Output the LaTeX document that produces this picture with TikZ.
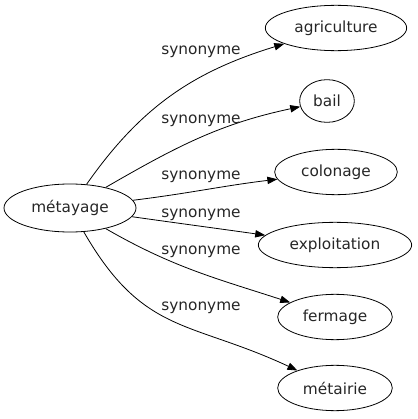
\documentclass[tikz,border=0pt]{standalone}
\usepackage{fontspec}
\setmainfont{DejaVu Sans}
\usepackage{tikz}
\usetikzlibrary{positioning, shapes.geometric, arrows.meta}

\begin{document}
\begin{tikzpicture}[
    x=0.75pt, y=0.75pt,
    wordnode/.style={ellipse, draw, line width=0.6pt, inner sep=0pt, text=black!85,
                     minimum height=34pt, font=\fontsize{11.5}{13}\selectfont},
    relabel/.style={font=\fontsize{11.5}{13}\selectfont, inner sep=0pt, text=black!85},
    arrow/.style={-{Triangle[length=7.5pt,width=5.5pt]}, line width=0.6pt},
  ]
    \useasboundingbox (0,0) rectangle (418,419);

    \node[wordnode, minimum width=99pt, minimum height=36pt] (MET) at (70,211) {métayage};
    \node[wordnode, minimum width=106pt] (AGR) at (336,391) {agriculture};
    \node[wordnode, minimum width=41pt, minimum height=32pt] (BAIL) at (327,318) {bail};
    \node[wordnode, minimum width=92pt] (COL) at (336,247) {colonage};
    \node[wordnode, minimum width=115pt] (EXP) at (335,174) {exploitation};
    \node[wordnode, minimum width=86pt] (FER) at (335,102) {fermage};
    \node[wordnode, minimum width=86pt] (MTR) at (335,31) {métairie};

    \draw[arrow] (MET) to[out=55, in=197] (AGR);
    \draw[arrow] (MET) to[out=30, in=192] (BAIL);
    \draw[arrow] (MET) to[out=7, in=187] (COL);
    \draw[arrow] (MET) to[out=-8, in=172] (EXP);
    \draw[arrow] (MET) to[out=-30, in=162] (FER);
    \draw[arrow] (MET) to[out=-60, in=155, looseness=1.2] (MTR);

    \node[relabel] (L1) at (201,367) {synonyme};
    \node[relabel] (L2) at (201,298) {synonyme};
    \node[relabel] (L3) at (201,242) {synonyme};
    \node[relabel] (L4) at (201,204) {synonyme};
    \node[relabel] (L5) at (201,167) {synonyme};
    \node[relabel] (L6) at (201,111) {synonyme};
  \end{tikzpicture}
\end{document}
